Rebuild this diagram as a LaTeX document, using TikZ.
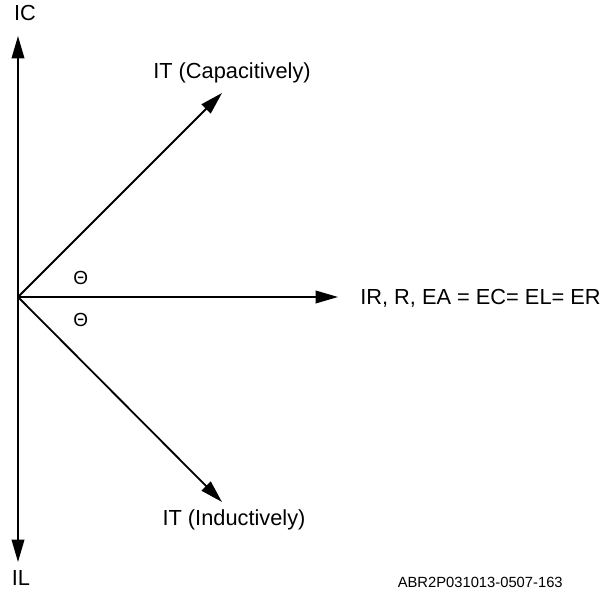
\documentclass[tikz,border=0pt]{standalone}
\usepackage{fontspec}
\setmainfont{Liberation Sans}
\usetikzlibrary{arrows.meta}

\tikzset{
    phasor/.style={line width=1.3pt, -{Triangle[length=16pt, width=9pt]}},
    lbl/.style={font=\fontsize{15.5}{18}\selectfont, inner sep=0pt},
    angl/.style={font=\fontsize{13.5}{15}\selectfont, inner sep=0pt},
}

\begin{document}
\begin{tikzpicture}
    \useasboundingbox (0,0) rectangle (15.1,14.8);

    % Origine et extremites des vecteurs
    \coordinate (o) at (0.45,7.375);
    \coordinate (icTip) at (0.45,13.9);
    \coordinate (ilTip) at (0.45,0.75);
    \coordinate (irTip) at (8.45,7.375);
    \coordinate (capTip) at (5.55,12.475);
    \coordinate (indTip) at (5.55,2.25);

    % Textes
    \node[lbl] (ic) at (0.625,14.475) {IC};
    \node[lbl] (il) at (0.525,0.35) {IL};
    \node[lbl, anchor=west] (ir) at (9.0,7.35) {IR, R, EA = EC= EL= ER};
    \node[lbl] (cap) at (5.8,12.975) {IT (Capacitively)};
    \node[lbl] (ind) at (5.85,1.8) {IT (Inductively)};
    \node[angl] (thUp) at (2.02,7.85) {Θ};
    \node[angl] (thDown) at (2.02,6.8) {Θ};
    \node[font=\fontsize{10.5}{12}\selectfont, inner sep=0pt, anchor=east] (ref) at (14.075,0.25) {ABR2P031013-0507-163};

    % Vecteurs
    \draw[phasor] (o) -- (icTip);
    \draw[phasor] (o) -- (ilTip);
    \draw[phasor] (o) -- (irTip);
    \draw[phasor] (o) -- (capTip);
    \draw[phasor] (o) -- (indTip);
\end{tikzpicture}
\end{document}
